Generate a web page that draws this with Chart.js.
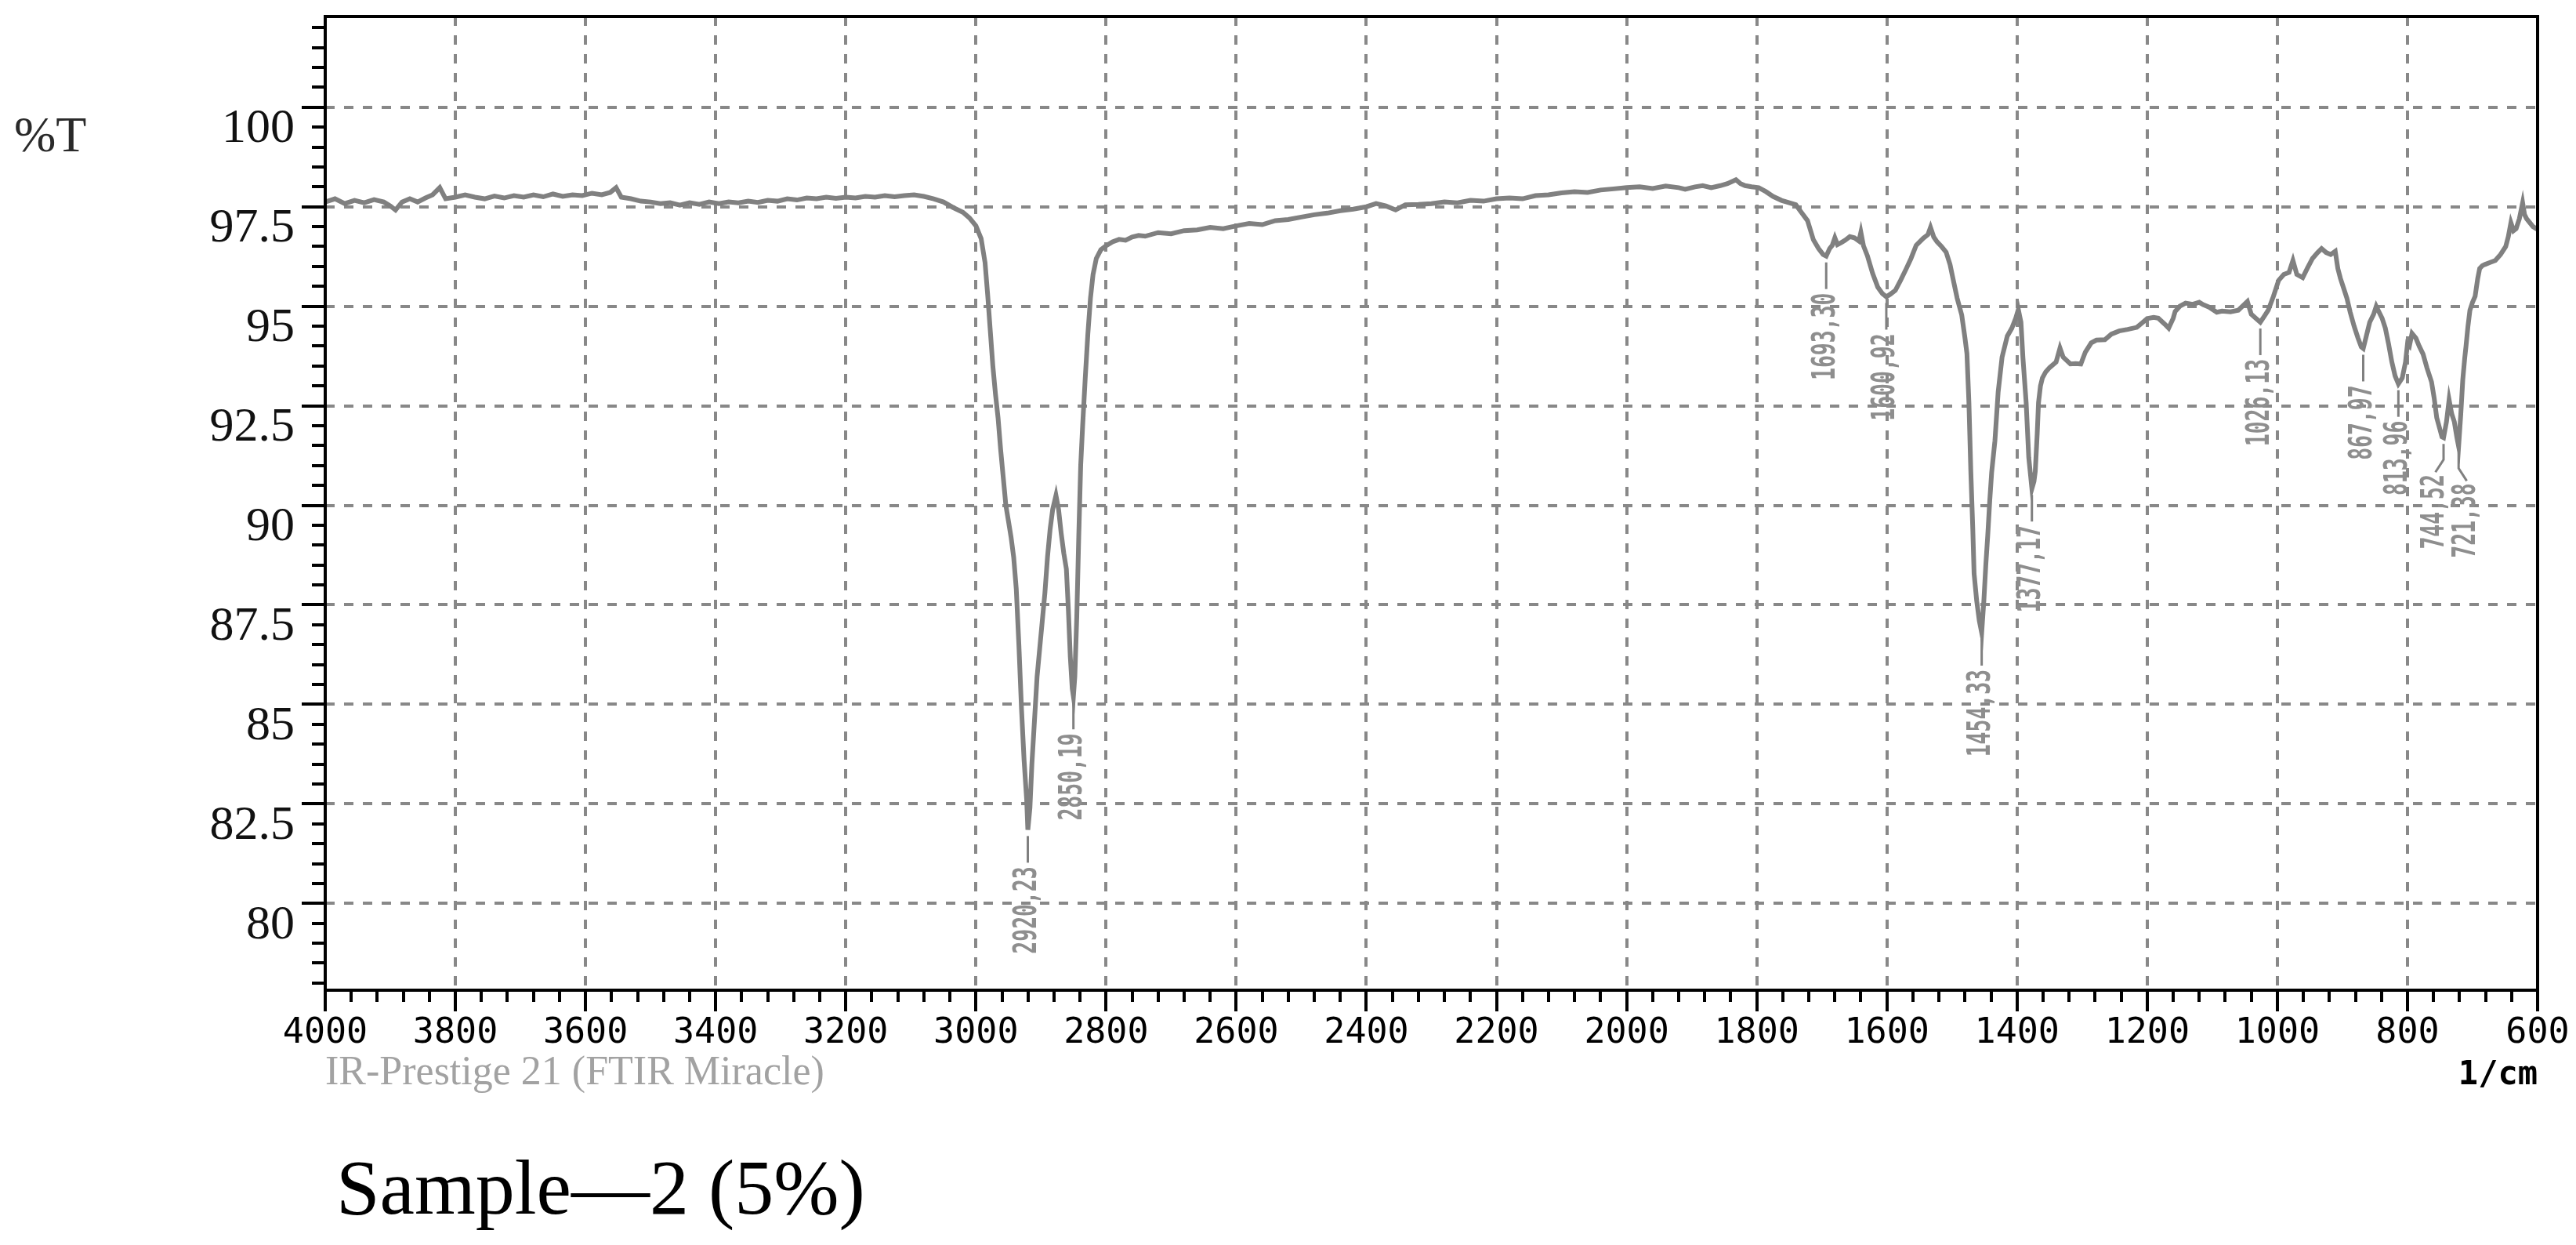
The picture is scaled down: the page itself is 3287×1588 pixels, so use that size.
<!DOCTYPE html>
<html>
<head>
<meta charset="utf-8">
<script src="https://cdn.jsdelivr.net/npm/chart.js@4.4.1/dist/chart.umd.min.js"></script>
<style>
html,body{margin:0;padding:0;background:#ffffff;}
canvas{display:block;}
</style>
</head>
<body>
<canvas id="c" width="3287" height="1588" style="width:3287px;height:1588px"></canvas>
<script>
// ---- data ----
const wavenumbers = [
4000,3985,3970,3955,3940,3925,3910,3900,3892,3882,
3870,3858,3846,3835,3824,3815,3800,3785,3770,3755,
3740,3725,3710,3695,3680,3665,3650,3635,3620,3605,
3590,3575,3562,3553,3545,3530,3515,3500,3485,3470,
3455,3440,3425,3410,3395,3380,3365,3350,3335,3320,
3305,3290,3275,3260,3245,3230,3215,3200,3185,3170,
3155,3140,3125,3110,3095,3080,3065,3050,3035,3020,
3010,3000,2992,2986,2982,2978,2974,2970,2966,2962,
2958,2954,2950,2946,2942,2938,2934,2930,2926,2922,
2920.23,2917,2914,2910,2906,2902,2898,2894,2890,2886,
2882,2877,2873,2869,2865,2861,2858,2855,2852,2850.19,
2848,2845,2842,2839,2836,2832,2828,2824,2820,2815,
2808,2800,2790,2780,2770,2760,2750,2740,2720,2700,
2680,2660,2640,2620,2600,2580,2560,2540,2520,2500,
2480,2460,2440,2420,2400,2385,2370,2355,2340,2320,
2300,2280,2260,2240,2220,2200,2180,2160,2140,2120,
2100,2080,2060,2040,2020,2000,1980,1960,1940,1920,
1910,1895,1883,1870,1856,1845,1832,1825,1818,1808,
1797,1786,1775,1762,1748,1740,1732,1722,1713,1705,
1698,1693.30,1688,1684,1680,1676,1670,1664,1657,1650,
1643,1640,1636,1630,1622,1614,1607,1600.92,1595,1587,
1579,1571,1563,1555,1544,1537,1533,1528,1523,1516,
1509,1503,1498,1492,1485,1480,1477,1474,1471,1468,
1466,1462,1458,1454.33,1451,1448,1445,1442,1439,1434,
1429,1423,1415,1408,1402,1398,1394,1391,1386,1382,
1377.17,1374,1372,1369,1367,1364,1361,1356,1350,1340,
1334,1329,1318,1310,1302,1295,1286,1278,1265,1255,
1243,1230,1216,1208,1200,1190,1183,1173,1167,1160,
1157,1150,1141,1130,1120,1114,1105,1093,1085,1072,
1060,1046,1040,1033,1026.13,1020,1014,1006,998,990,
982,976,970,961,954,946,938,932,925,918,
911,907,903,898,893,888,882,876,871,867.97,
864,858,852,848,845,839,834,829,824,819,
813.96,810,808,803,800,797,793,787,782,776,
770,763,759,755,750,747,744.52,740,736,732,
728,724,721.38,718,715,712,710,707,704,700,
696,692,689,685,681,673,665,657,649,645,
641,637,633,628,623,620,617,612,607,602,600
];
const transmittance = [
97.62,97.70,97.58,97.66,97.60,97.68,97.62,97.52,97.42,97.62,
97.70,97.62,97.72,97.80,97.98,97.70,97.74,97.80,97.74,97.70,
97.77,97.72,97.78,97.74,97.80,97.75,97.82,97.76,97.80,97.78,
97.84,97.80,97.86,97.98,97.74,97.70,97.64,97.62,97.58,97.60,
97.54,97.60,97.56,97.62,97.58,97.62,97.60,97.64,97.61,97.66,
97.64,97.70,97.67,97.72,97.70,97.74,97.71,97.74,97.72,97.76,
97.74,97.78,97.75,97.78,97.80,97.76,97.70,97.62,97.48,97.36,
97.22,97.02,96.70,96.10,95.30,94.40,93.50,92.80,92.20,91.40,
90.70,90.00,89.60,89.20,88.70,87.90,86.50,84.90,83.60,82.60,
81.85,82.40,83.50,84.60,85.70,86.40,87.10,87.80,88.70,89.40,
89.90,90.25,89.90,89.30,88.80,88.40,87.40,86.20,85.40,85.20,
85.70,87.20,89.20,91.00,92.00,93.20,94.30,95.20,95.80,96.20,
96.42,96.52,96.62,96.68,96.66,96.74,96.78,96.76,96.85,96.82,
96.90,96.92,96.98,96.95,97.02,97.08,97.05,97.15,97.18,97.24,
97.30,97.34,97.40,97.44,97.50,97.58,97.52,97.42,97.55,97.56,
97.58,97.62,97.60,97.66,97.64,97.70,97.72,97.70,97.78,97.80,
97.85,97.88,97.86,97.92,97.95,97.98,98.00,97.96,98.02,97.98,
97.94,98.00,98.03,97.98,98.03,98.08,98.18,98.08,98.03,98.00,
97.98,97.88,97.76,97.66,97.59,97.55,97.37,97.15,96.67,96.45,
96.30,96.26,96.45,96.53,96.72,96.55,96.60,96.66,96.75,96.72,
96.64,96.86,96.52,96.27,95.83,95.48,95.32,95.24,95.30,95.40,
95.65,95.92,96.20,96.53,96.71,96.80,96.98,96.74,96.62,96.50,
96.36,96.05,95.66,95.20,94.78,94.20,93.81,92.60,90.83,89.40,
88.28,87.60,87.10,86.80,87.60,88.50,89.25,90.10,90.83,91.62,
92.85,93.72,94.25,94.45,94.70,94.92,94.60,93.72,92.58,91.20,
90.42,90.60,90.85,91.80,92.58,93.00,93.20,93.35,93.46,93.60,
93.95,93.72,93.55,93.56,93.55,93.85,94.08,94.15,94.16,94.30,
94.38,94.42,94.47,94.58,94.69,94.72,94.70,94.55,94.45,94.70,
94.87,95.00,95.08,95.05,95.10,95.04,94.98,94.85,94.88,94.86,
94.90,95.12,94.80,94.70,94.60,94.75,94.90,95.25,95.65,95.80,
95.85,96.15,95.80,95.72,95.95,96.20,96.35,96.45,96.35,96.30,
96.38,95.95,95.70,95.45,95.20,94.85,94.50,94.20,93.98,93.94,
94.20,94.60,94.80,95.00,94.90,94.70,94.45,94.05,93.60,93.25,
93.05,93.15,93.20,93.60,94.05,94.00,94.32,94.20,94.00,93.80,
93.45,93.10,92.70,92.20,91.90,91.72,91.70,92.10,92.65,92.30,
92.10,91.70,91.48,92.30,93.15,93.70,94.00,94.50,94.90,95.10,
95.25,95.70,95.95,96.02,96.05,96.10,96.15,96.30,96.50,96.75,
97.10,96.90,96.95,97.20,97.60,97.30,97.20,97.10,97.00,96.95,96.95
];
const peakWavenumbers = [2920.23, 2850.19, 1693.30, 1600.92, 1454.33, 1377.17, 1026.13, 867.97, 813.96, 744.52, 721.38];
const peakLabels = ["2920,23", "2850,19", "1693,30", "1600,92", "1454,33", "1377,17", "1026,13", "867,97", "813,96", "744,52", "721,38"];
const xTickValues = [4000, 3800, 3600, 3400, 3200, 3000, 2800, 2600, 2400, 2200, 2000, 1800, 1600, 1400, 1200, 1000, 800, 600];
const yTickValues = [100, 97.5, 95, 92.5, 90, 87.5, 85, 82.5, 80];
const yTickLabels = ["100", "97.5", "95", "92.5", "90", "87.5", "85", "82.5", "80"];
const yAxisTitle = "%T";
const xAxisTitle = "1/cm";
const instrumentText = "IR-Prestige 21 (FTIR Miracle)";
const sampleTitle = "Sample\u20142 (5%)";

// ---- build ----
const n = Math.min(wavenumbers.length, transmittance.length);
const points = [];
for (let i = 0; i < n; i++) points.push({x: wavenumbers[i], y: transmittance[i]});

const GRID = '#888888';

const framePlugin = {
  id: 'frame',
  afterDraw(chart) {
    const {ctx, chartArea: a} = chart;
    const xs = chart.scales.x, ys = chart.scales.y;
    ctx.save();
    ctx.strokeStyle = '#000';
    ctx.lineWidth = 4;
    ctx.setLineDash([]);
    ctx.strokeRect(a.left, a.top, a.right - a.left, a.bottom - a.top);
    ctx.beginPath();
    for (let k = 0; ; k++) {
      const v = 78 + k * 0.5;
      if (v > ys.max) break;
      if (v < ys.min) continue;
      const p = Math.round(ys.getPixelForValue(v));
      const major = Math.abs(v / 2.5 - Math.round(v / 2.5)) < 1e-6;
      const len = major ? 30 : 17;
      ctx.moveTo(a.left - len, p);
      ctx.lineTo(a.left, p);
    }
    for (let k = 0; ; k++) {
      const w = 600 + k * 40;
      if (w > 4000) break;
      const p = Math.round(xs.getPixelForValue(w));
      const major = (w % 200) === 0;
      const len = major ? 27 : 15;
      ctx.moveTo(p, a.bottom);
      ctx.lineTo(p, a.bottom + len);
    }
    ctx.stroke();

    ctx.textBaseline = 'alphabetic';
    ctx.fillStyle = '#2a2a2a';
    ctx.textAlign = 'left';
    ctx.font = '64px "Liberation Serif"';
    ctx.fillText(yAxisTitle, 18, 193);

    ctx.fillStyle = '#a2a2a2';
    ctx.font = '52px "Liberation Serif"';
    ctx.fillText(instrumentText, a.left, 1383);

    ctx.fillStyle = '#000';
    ctx.textAlign = 'right';
    ctx.font = 'bold 42px "DejaVu Sans Mono"';
    ctx.fillText(xAxisTitle, a.right, 1383);

    ctx.textAlign = 'left';
    ctx.font = '100px "Liberation Serif"';
    ctx.fillText(sampleTitle, 429, 1548);
    ctx.restore();
  }
};

const peakPlugin = {
  id: 'peaks',
  afterDatasetsDraw(chart) {
    const xs = chart.scales.x, ys = chart.scales.y, ctx = chart.ctx;
    const items = peakWavenumbers.map((pw, i) => {
      let best = 0, bd = Infinity;
      for (let j = 0; j < n; j++) {
        const d = Math.abs(wavenumbers[j] - pw);
        if (d < bd) { bd = d; best = j; }
      }
      const px = xs.getPixelForValue(wavenumbers[best]);
      const py = ys.getPixelForValue(transmittance[best]);
      return {px, py, lx: px, text: peakLabels[i]};
    }).sort((p, q) => p.px - q.px);
    for (let k = 1; k < items.length; k++) {
      const p = items[k - 1], q = items[k];
      if (q.lx - p.lx < 40) {
        const m = (p.px + q.px) / 2;
        p.lx = m - 20; q.lx = m + 20;
      }
    }
    ctx.save();
    ctx.strokeStyle = '#808080';
    ctx.lineWidth = 3;
    ctx.setLineDash([]);
    items.forEach(it => {
      ctx.beginPath();
      if (Math.abs(it.lx - it.px) < 1) {
        ctx.moveTo(it.px, it.py + 8);
        ctx.lineTo(it.px, it.py + 42);
      } else {
        ctx.moveTo(it.px, it.py + 8);
        ctx.lineTo(it.px, it.py + 28);
        ctx.lineTo(it.lx, it.py + 44);
      }
      ctx.stroke();
      ctx.save();
      ctx.translate(it.lx, it.py + 47);
      ctx.rotate(-Math.PI / 2);
      ctx.scale(0.66, 1);
      ctx.font = 'bold 40px "DejaVu Sans Mono"';
      ctx.fillStyle = '#8e8e8e';
      ctx.textAlign = 'right';
      ctx.textBaseline = 'middle';
      ctx.fillText(it.text, 0, 0);
      ctx.restore();
    });
    ctx.restore();
  }
};

new Chart(document.getElementById('c'), {
  type: 'line',
  data: {
    datasets: [{
      data: points,
      borderColor: '#808080',
      borderWidth: 6,
      pointRadius: 0,
      tension: 0,
      fill: false
    }]
  },
  options: {
    responsive: false,
    devicePixelRatio: 1,
    animation: false,
    events: [],
    layout: {padding: {top: 21, right: 49, left: 0, bottom: 0}},
    plugins: {legend: {display: false}, tooltip: {enabled: false}},
    scales: {
      x: {
        type: 'linear',
        reverse: true,
        min: 600,
        max: 4000,
        afterBuildTicks(scale) { scale.ticks = xTickValues.slice().sort((p, q) => p - q).map(v => ({value: v})); },
        afterFit(scale) { scale.height = 325; scale.paddingLeft = 0; scale.paddingRight = 0; },
        grid: {color: GRID, lineWidth: 4, drawTicks: false},
        border: {display: false, dash: [12, 12]},
        ticks: {
          autoSkip: false, maxRotation: 0, padding: 28,
          color: '#000',
          font: {family: 'DejaVu Sans Mono', size: 45},
          callback: v => String(v)
        }
      },
      y: {
        type: 'linear',
        min: 77.82,
        max: 102.28,
        afterBuildTicks(scale) { scale.ticks = yTickValues.slice().sort((p, q) => p - q).map(v => ({value: v})); },
        afterFit(scale) { scale.width = 415; scale.paddingTop = 0; scale.paddingBottom = 0; },
        grid: {color: GRID, lineWidth: 4, drawTicks: false},
        border: {display: false, dash: [12, 12]},
        ticks: {
          padding: 39,
          labelOffset: 28,
          color: '#111',
          font: {family: 'Liberation Serif', size: 62},
          callback: v => { const i = yTickValues.indexOf(v); return i >= 0 ? yTickLabels[i] : ''; }
        }
      }
    }
  },
  plugins: [peakPlugin, framePlugin]
});
</script>
</body>
</html>
